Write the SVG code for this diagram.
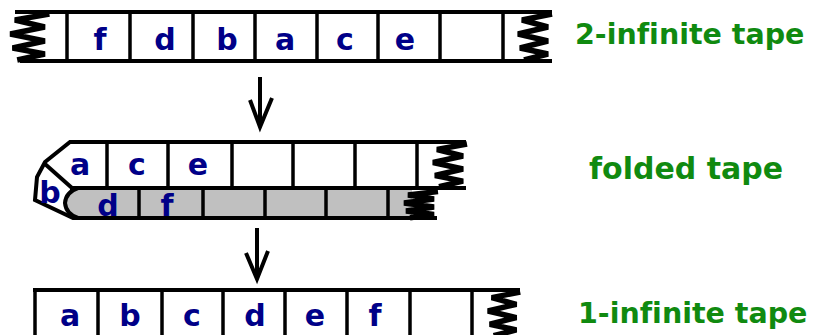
<svg xmlns="http://www.w3.org/2000/svg" xmlns:xlink="http://www.w3.org/1999/xlink" width="813" height="335" viewBox="0 0 813 335">
<style>
.ln{stroke:#000;stroke-width:4;fill:none;stroke-linecap:butt}
.dv{stroke:#000;stroke-width:3.5;fill:none}
.ch{font-family:"DejaVu Sans",Verdana,sans-serif;font-weight:bold;font-size:30px;fill:#000088;text-anchor:middle}
.lb{font-family:"DejaVu Sans",Verdana,sans-serif;font-weight:bold;font-size:28.5px;fill:#108a10;font-variant-ligatures:none;font-feature-settings:"liga" 0}
.ar{stroke:#000;stroke-width:4;fill:none;stroke-linejoin:miter}
</style>
<defs>
<path id="jag" d="M36,1 L6,7 L32,14 L2,21 L32,28 L4,35 L32,41 L8,47" stroke="#000" stroke-width="5.5" fill="none" stroke-linejoin="bevel" vector-effect="non-scaling-stroke"/>
</defs>
<rect width="813" height="335" fill="#fff"/>

<g id="tape-two-infinite">
<line class="ln" x1="15" y1="12" x2="552" y2="12"/>
<line class="ln" x1="20" y1="61" x2="552" y2="61"/>
<g class="dv">
<line x1="67" y1="12" x2="67" y2="61"/>
<line x1="130" y1="12" x2="130" y2="61"/>
<line x1="193" y1="12" x2="193" y2="61"/>
<line x1="255" y1="12" x2="255" y2="61"/>
<line x1="317" y1="12" x2="317" y2="61"/>
<line x1="378" y1="12" x2="378" y2="61"/>
<line x1="440" y1="12" x2="440" y2="61"/>
<line x1="503" y1="12" x2="503" y2="61"/>
</g>
<use xlink:href="#jag" transform="translate(8,13) scale(1.15,1)"/>
<use xlink:href="#jag" transform="translate(516,13)"/>
<text class="ch" x="100" y="50">f</text>
<text class="ch" x="165" y="50">d</text>
<text class="ch" x="227" y="50">b</text>
<text class="ch" x="285" y="50">a</text>
<text class="ch" x="345" y="50">c</text>
<text class="ch" x="405" y="50">e</text>
<text class="lb" x="575" y="44">2-infinite tape</text>
</g>

<g id="tape-folded">
<path d="M72,190 L412,190 L412,216 L74,216 Q66,212 65,203 Q66,194 72,190 Z" fill="#c0c0c0"/>
<path class="ln" d="M466,142 L70,142 L45,162 L37,177 L35,200 L73,218 L437,218"/>
<line class="ln" x1="70" y1="188" x2="466" y2="188"/>
<path class="ln" d="M78,188 Q66,192 65,203 Q66,214 78,218"/>
<line class="ln" x1="45" y1="164" x2="72" y2="188"/>
<g class="dv">
<line x1="107" y1="142" x2="107" y2="188"/>
<line x1="168" y1="142" x2="168" y2="188"/>
<line x1="232" y1="142" x2="232" y2="188"/>
<line x1="293" y1="142" x2="293" y2="188"/>
<line x1="355" y1="142" x2="355" y2="188"/>
<line x1="417" y1="142" x2="417" y2="188"/>
<line x1="139" y1="188" x2="139" y2="218"/>
<line x1="203" y1="188" x2="203" y2="218"/>
<line x1="265" y1="188" x2="265" y2="218"/>
<line x1="326" y1="188" x2="326" y2="218"/>
<line x1="388" y1="188" x2="388" y2="218"/>
</g>
<use xlink:href="#jag" transform="translate(431,143) scale(1,0.93)"/>
<use xlink:href="#jag" transform="translate(402,191) scale(1,0.57)"/>
<text class="ch" x="80" y="175">a</text>
<text class="ch" x="137" y="175">c</text>
<text class="ch" x="198" y="175">e</text>
<text class="ch" x="50" y="203">b</text>
<text class="ch" x="108" y="216">d</text>
<text class="ch" x="167" y="216">f</text>
<text class="lb" x="589" y="179" style="font-size:30px">folded tape</text>
</g>

<g id="tape-one-infinite">
<line class="ln" x1="33" y1="290" x2="520" y2="290"/>
<g class="dv">
<line x1="35" y1="290" x2="35" y2="335"/>
<line x1="98" y1="290" x2="98" y2="335"/>
<line x1="162" y1="290" x2="162" y2="335"/>
<line x1="223" y1="290" x2="223" y2="335"/>
<line x1="285" y1="290" x2="285" y2="335"/>
<line x1="347" y1="290" x2="347" y2="335"/>
<line x1="410" y1="290" x2="410" y2="335"/>
<line x1="472" y1="290" x2="472" y2="335"/>
</g>
<use xlink:href="#jag" transform="translate(486,291) scale(0.95,0.95)"/>
<text class="ch" x="70" y="326">a</text>
<text class="ch" x="130" y="326">b</text>
<text class="ch" x="192" y="326">c</text>
<text class="ch" x="255" y="326">d</text>
<text class="ch" x="315" y="326">e</text>
<text class="ch" x="375" y="326">f</text>
<text class="lb" x="578" y="323">1-infinite tape</text>
</g>

<g id="connectors">
<path class="ar" d="M260,77 L260,127 M250,100 L260,127 L272,98"/>
<path class="ar" d="M257,228 L257,279 M246,253 L257,279 L268,251"/>
</g>
</svg>
